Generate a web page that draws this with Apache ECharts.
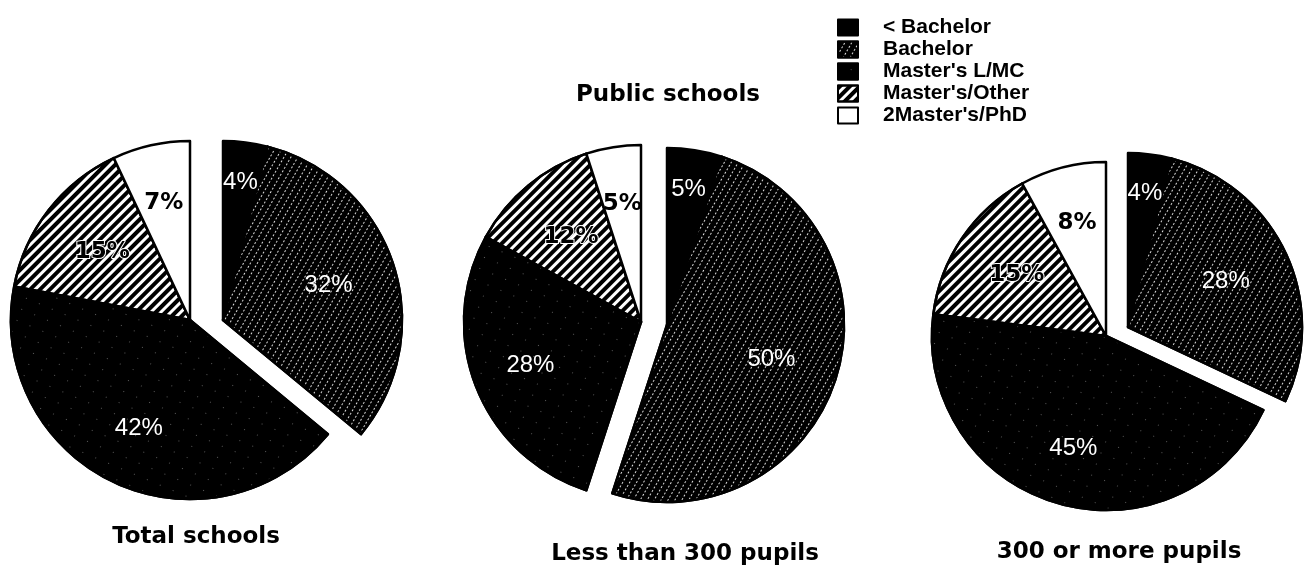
<!DOCTYPE html>
<html>
<head>
<meta charset="utf-8">
<script src="https://cdn.jsdelivr.net/npm/echarts@6/dist/echarts.min.js"></script>
<style>
    html, body { margin: 0; padding: 0; background: #fff; }
    #main { width: 1306px; height: 565px; }
</style>
</head>
<body>
<div id="main"></div>
<script>
    // slices, clockwise from 12 o'clock (same order as legend)
    var categories = ['< Bachelor', 'Bachelor', "Master's L/MC", "Master's/Other", "2Master's/PhD"];
    // percent of teachers per highest degree
    var totalSchools = [4, 32, 42, 15, 7];
    var under300 = [5, 50, 28, 12, 5];
    var over300 = [4, 28, 45, 15, 8];
    var groupNames = ['Total schools', 'Less than 300 pupils', '300 or more pupils'];
    var groupValues = [totalSchools, under300, over300];
    var mainTitle = 'Public schools';
    // the first two slices are pulled out together
    var explodedCount = 2;

    // pie placement (px)
    var layout = [
        {main: [190, 320], out: [223, 320], r: 179, title: [191, 521]},
        {main: [641, 322], out: [667, 325], r: 177, title: [680, 538]},
        {main: [1106, 336], out: [1128, 327], r: 174, title: [1114, 536]}
    ];

    // b/w fills of the scanned chart
    var sliceStyles = [
        {color: '#000'},
        {color: '#000', decal: {color: 'rgba(255,255,255,0.85)', symbol: 'rect', symbolSize: 1,
            dashArrayX: [2, 2], dashArrayY: [1, 5], rotation: -Math.PI / 3}},
        {color: '#000', decal: {color: 'rgba(255,255,255,0.35)', symbol: 'rect', symbolSize: 1,
            dashArrayX: [1, 13], dashArrayY: [1, 11], rotation: 0.4}},
        {color: '#fff', decal: {color: '#000', symbol: 'rect', symbolSize: 1,
            dashArrayX: [1, 0], dashArrayY: [4, 3], rotation: -Math.PI / 4}},
        {color: '#fff'}
    ];
    // how far labels sit from the centre (1 = half radius)
    var labelPush = [1.5, 1.2, 1.3, 1.2, 1.3];

    function labelFor(i) {
        if (i < 3) {
            return {show: true, position: 'inside', formatter: '{c}%', color: '#fff',
                fontFamily: 'Liberation Sans', fontSize: 24, fontWeight: 'normal'};
        }
        return {show: true, position: 'inside', formatter: '{c}%', color: '#000',
            fontFamily: 'DejaVu Sans', fontSize: 23, fontWeight: 'bold',
            textBorderColor: '#fff', textBorderWidth: i === 3 ? 2 : 0};
    }

    function pieSeries(values, center, r, exploded) {
        var data = values.map(function (v, i) {
            var visible = exploded ? i < explodedCount : i >= explodedCount;
            if (!visible) {
                return {value: v, name: categories[i],
                    itemStyle: {color: 'rgba(0,0,0,0)', borderWidth: 0}, label: {show: false}};
            }
            return {value: v, name: categories[i],
                itemStyle: Object.assign({borderColor: '#000', borderWidth: 2.5}, sliceStyles[i]),
                label: labelFor(i)};
        });
        return {
            type: 'pie',
            center: center,
            radius: r,
            startAngle: 90,
            clockwise: true,
            silent: true,
            animation: false,
            avoidLabelOverlap: false,
            emphasis: {disabled: true},
            labelLine: {show: false},
            labelLayout: function (params) {
                var rect = params.labelRect;
                var lx = rect.x + rect.width / 2, ly = rect.y + rect.height / 2;
                var k = labelPush[params.dataIndex] - 1;
                return {dx: (lx - center[0]) * k, dy: (ly - center[1]) * k};
            },
            data: data
        };
    }

    var series = [];
    var titles = [];
    groupValues.forEach(function (vals, g) {
        var L = layout[g];
        series.push(pieSeries(vals, L.main, L.r, false));
        series.push(pieSeries(vals, L.out, L.r, true));
        titles.push({text: groupNames[g], left: L.title[0], top: L.title[1], textAlign: 'center',
            textStyle: {fontFamily: 'DejaVu Sans', fontWeight: 'bold', fontSize: 23, color: '#000'}});
    });
    titles.push({text: mainTitle, left: 663, top: 79, textAlign: 'center',
        textStyle: {fontFamily: 'DejaVu Sans', fontWeight: 'bold', fontSize: 23, color: '#000'}});

    var option = {
        backgroundColor: '#fff',
        animation: false,
        title: titles,
        legend: {
            orient: 'vertical',
            left: 832,
            top: 12,
            icon: 'rect',
            itemWidth: 20,
            itemHeight: 16,
            itemGap: 1,
            selectedMode: false,
            textStyle: {fontFamily: 'Liberation Sans', fontWeight: 'bold', fontSize: 21, color: '#000',
                padding: [0, 0, 0, 20]},
            data: categories.map(function (n, i) {
                return {name: n, itemStyle: Object.assign({borderColor: '#000', borderWidth: 2}, sliceStyles[i])};
            })
        },
        series: series
    };

    var chartDom = document.getElementById('main');
    var myChart = echarts.init(chartDom);
    myChart.setOption(option);
</script>
</body>
</html>
